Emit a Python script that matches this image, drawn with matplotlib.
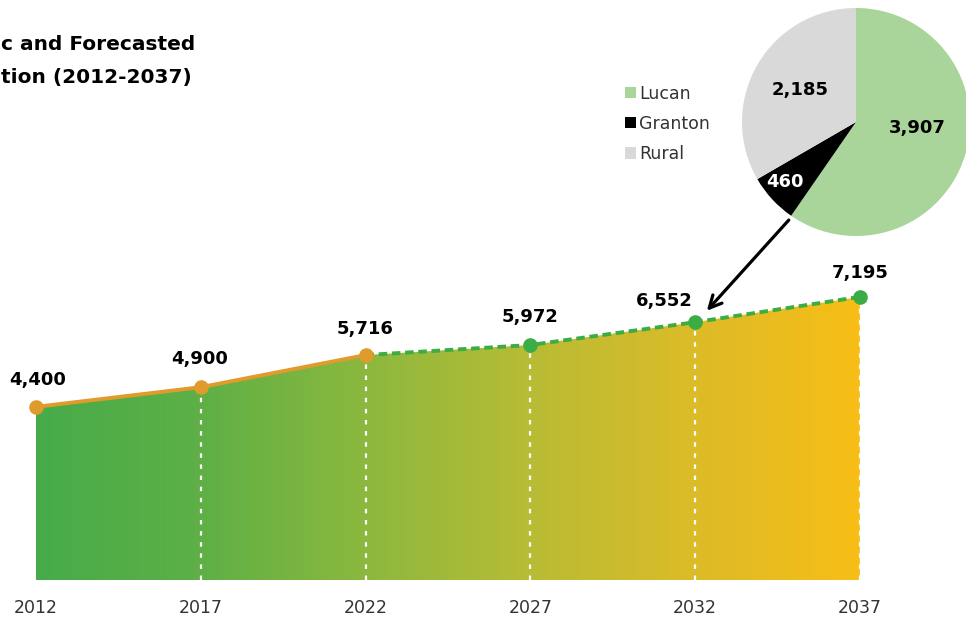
import numpy as np
import matplotlib
matplotlib.use('Agg')
import matplotlib.pyplot as plt
from matplotlib.colors import LinearSegmentedColormap

# данные
years = [2012, 2017, 2022, 2027, 2032, 2037]
population = [4400, 4900, 5716, 5972, 6552, 7195]
value_labels = ['4,400', '4,900', '5,716', '5,972', '6,552', '7,195']
n_hist = 3  # 2012-2022 фактические, дальше прогноз

pie_names = ['Lucan', 'Granton', 'Rural']
pie_values = [3907, 460, 2185]
pie_labels = ['3,907', '460', '2,185']

# заголовок в оригинале срезан левым краем
title_lines = ['c and Forecasted', 'tion (2012-2037)']

plt.rcParams['font.family'] = ['DejaVu Sans']

fig = plt.figure(figsize=(9.66, 6.2), dpi=100)
ax = fig.add_axes([0, 40 / 620, 1, 580 / 620])
ax.set_xlim(2010.91, 2040.22)
ax.set_ylim(0, 14740)
for s in ax.spines.values():
    s.set_visible(False)
ax.set_yticks([])
ax.set_xticks(years)
ax.set_xticklabels([str(y) for y in years])
ax.tick_params(axis='x', length=0, pad=14, labelsize=12.5, labelcolor='#333333')

# градиентная заливка под линией
cmap = LinearSegmentedColormap.from_list('gy', ['#47ab4a', '#5eb046', '#8cb83e',
                                                '#b8bc35', '#dcbb28', '#f8be16'])
grad = np.linspace(0, 1, 256).reshape(1, -1)
poly = ax.fill_between(years, population, 0, color='none', lw=0)
img = ax.imshow(grad, extent=[years[0], years[-1], 0, max(population)],
                aspect='auto', cmap=cmap, origin='lower', zorder=1)
img.set_clip_path(poly.get_paths()[0], transform=ax.transData)

# белые пунктирные вертикали
for x, y in zip(years[1:], population[1:]):
    ax.plot([x, x], [0, y], color='white', lw=1.6, ls=(0, (2, 3)), zorder=2)

# линии: история и прогноз
ax.plot(years[n_hist - 1:], population[n_hist - 1:], color='#3cac45', lw=2.8,
        ls=(0, (2.2, 1.2)), zorder=3)
ax.plot(years[n_hist:], population[n_hist:], 'o', color='#3cac45', ms=9.5, zorder=4)
ax.plot(years[:n_hist], population[:n_hist], color='#e09b2d', lw=2.8,
        marker='o', ms=9.5, zorder=5)

offsets = [(1, 19), (-1, 20), (0, 19), (0, 20), (-22, 15), (0, 17)]
for x, y, t, off in zip(years, population, value_labels, offsets):
    ax.annotate(t, (x, y), xytext=off, textcoords='offset points', ha='center',
                va='center', fontsize=13, fontweight='bold', color='black')

# заголовок
fig.text(1 / 966, 1 - 45 / 620, title_lines[0], ha='left', va='center',
         fontsize=14.5, fontweight='bold')
fig.text(1 / 966, 1 - 77 / 620, title_lines[1], ha='left', va='center',
         fontsize=14.5, fontweight='bold')

# круговая диаграмма 2032
pax = fig.add_axes([742 / 966, 1 - 236 / 620, 228 / 966, 228 / 620])
wedges, _ = pax.pie(pie_values, colors=['#a9d49a', '#000000', '#d9d9d9'],
                    startangle=90, counterclock=False, radius=1)
pax.set_xlim(-1, 1)
pax.set_ylim(-1, 1)
pax.set_aspect('equal')
pax.axis('off')
label_pos = [(0.54, -0.05), (-0.62, -0.53), (-0.49, 0.28)]
label_col = ['black', 'white', 'black']
for t, p, c in zip(pie_labels, label_pos, label_col):
    pax.text(p[0], p[1], t, ha='center', va='center', fontsize=13,
             fontweight='bold', color=c)

leg = fig.legend(wedges, pie_names, loc='upper left',
                 bbox_to_anchor=(609 / 966, 1 - 69 / 620), frameon=False,
                 handlelength=0.65, handleheight=0.65, handletextpad=0.2,
                 labelspacing=0.7, fontsize=12.5)
for t in leg.get_texts():
    t.set_color('#333333')

# стрелка от круга к 2032
ax.annotate('', xy=(2032.3, 6790), xytext=(2034.9, 9200),
            arrowprops=dict(arrowstyle='->', color='black', lw=2.3,
                            mutation_scale=22), zorder=6)

fig.savefig('out.png', dpi=100)
